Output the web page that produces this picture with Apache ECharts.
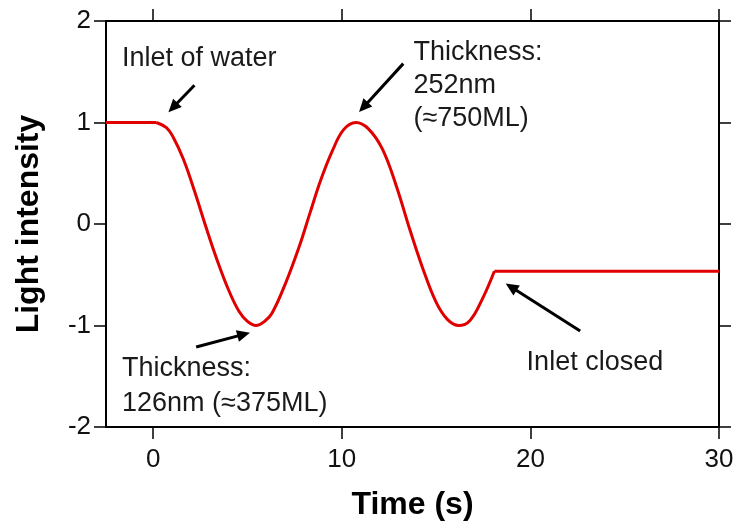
<!DOCTYPE html>
<html>
<head>
<meta charset="utf-8">
<script src="https://cdn.jsdelivr.net/npm/echarts@6/dist/echarts.min.js"></script>
<style>
html,body{margin:0;padding:0;background:#fff;}
#chart{width:737px;height:526px;}
</style>
</head>
<body>
<div id="chart"></div>
<script>
// ---- data ----
const xTicks = [0, 10, 20, 30];
const yTicks = [-2, -1, 0, 1, 2];

const flatStartX = [-2.5, 0.16];
const flatStartY = [1, 1];

const waveX = [0.16, 0.7, 1.05, 1.6, 2.2, 2.8, 3.4, 4.0, 4.55, 5.0, 5.45, 5.9, 6.3, 7.05, 7.75, 8.3, 8.9, 9.5, 10.1, 10.75, 11.4, 12.15, 12.9, 13.6, 14.3, 15.0, 15.6, 16.2, 16.8, 17.45, 18.09];
const waveY = [1.0, 0.95, 0.86, 0.64, 0.32, -0.03, -0.36, -0.65, -0.86, -0.96, -1.0, -0.96, -0.88, -0.57, -0.22, 0.1, 0.44, 0.72, 0.93, 1.0, 0.94, 0.74, 0.37, -0.05, -0.44, -0.77, -0.94, -1.0, -0.95, -0.74, -0.465];

const flatEndX = [18.09, 30];
const flatEndY = [-0.465, -0.465];

const arrowTailX = [2.19, 13.26, 2.28, 22.64];
const arrowTailY = [1.367, 1.58, -1.212, -1.055];
const arrowHeadX = [1.05, 11.15, 4.8, 18.98];
const arrowHeadY = [1.147, 1.151, -1.087, -0.621];

const noteText = ['Inlet of water', 'Thickness:\n252nm\n(\u2248750ML)', 'Thickness:\n126nm (\u2248375ML)', 'Inlet closed'];
const noteX = [-1.65, 13.8, -1.65, 19.8];
const noteY = [1.632, 1.853, -1.247, -1.364];
const noteVAlign = ['middle', 'top', 'top', 'middle'];

// ---- build ----
const zip = (xs, ys) => xs.map((x, i) => [x, ys[i]]);
const black = '#000';
const axisLine = { show: true, onZero: false, lineStyle: { color: black, width: 2 } };
const tickStyle = { color: black, width: 1.5 };
const font = 'Liberation Sans, Arial, sans-serif';

const chart = echarts.init(document.getElementById('chart'), null, { renderer: 'canvas' });
chart.setOption({
  animation: false,
  backgroundColor: '#fff',
  grid: { left: 106, right: 18, top: 21, bottom: 98, containLabel: false },
  xAxis: [
    {
      type: 'value', min: -2.5, max: 30, position: 'bottom',
      axisLine: axisLine,
      axisTick: { show: true, inside: false, length: 12, customValues: xTicks, lineStyle: tickStyle },
      axisLabel: { show: true, customValues: xTicks, margin: 20, fontSize: 26, color: '#111', fontFamily: font },
      splitLine: { show: false },
      name: 'Time (s)', nameLocation: 'middle', nameGap: 62,
      nameTextStyle: { fontSize: 32, fontWeight: 'bold', color: '#000', fontFamily: font }
    },
    {
      type: 'value', min: -2.5, max: 30, position: 'top',
      axisLine: axisLine,
      axisTick: { show: true, inside: false, length: 12, customValues: xTicks, lineStyle: tickStyle },
      axisLabel: { show: false },
      splitLine: { show: false }
    }
  ],
  yAxis: [
    {
      type: 'value', min: -2, max: 2, interval: 1, position: 'left',
      axisLine: axisLine,
      axisTick: { show: true, inside: false, length: 12, customValues: yTicks, lineStyle: tickStyle },
      axisLabel: { show: true, customValues: yTicks, margin: 15, fontSize: 26, color: '#111', fontFamily: font },
      splitLine: { show: false },
      name: 'Light intensity', nameLocation: 'middle', nameGap: 61,
      nameTextStyle: { fontSize: 32, fontWeight: 'bold', color: '#000', fontFamily: font }
    },
    {
      type: 'value', min: -2, max: 2, interval: 1, position: 'right',
      axisLine: axisLine,
      axisTick: { show: true, inside: false, length: 12, customValues: yTicks, lineStyle: tickStyle },
      axisLabel: { show: false },
      splitLine: { show: false }
    }
  ],
  series: [
    {
      type: 'line', xAxisIndex: 0, yAxisIndex: 0, data: zip(flatStartX, flatStartY),
      showSymbol: false, symbol: 'none', smooth: false,
      lineStyle: { color: '#e00000', width: 3 }
    },
    {
      type: 'line', xAxisIndex: 0, yAxisIndex: 0, data: zip(waveX, waveY),
      showSymbol: false, symbol: 'none', smooth: 0.4,
      lineStyle: { color: '#e00000', width: 3 },
      markLine: {
        silent: true, animation: false,
        symbol: ['none', 'triangle'], symbolSize: [12, 13],
        itemStyle: { color: black },
        lineStyle: { color: black, width: 3, type: 'solid' },
        label: { show: false },
        data: arrowTailX.map((x, i) => [
          { coord: [x, arrowTailY[i]] },
          { coord: [arrowHeadX[i], arrowHeadY[i]] }
        ])
      },
      markPoint: {
        silent: true, animation: false,
        symbol: 'circle', symbolSize: 0,
        data: noteText.map((t, i) => ({
          name: t, coord: [noteX[i], noteY[i]],
          label: {
            show: true, formatter: '{b}', position: 'inside',
            align: 'left', verticalAlign: noteVAlign[i],
            fontSize: 27, lineHeight: i === 2 ? 35 : 33, color: '#1a1a1a', fontFamily: font
          }
        }))
      }
    },
    {
      type: 'line', xAxisIndex: 0, yAxisIndex: 0, data: zip(flatEndX, flatEndY),
      showSymbol: false, symbol: 'none', smooth: false,
      lineStyle: { color: '#e00000', width: 3 }
    }
  ]
});
</script>
</body>
</html>
